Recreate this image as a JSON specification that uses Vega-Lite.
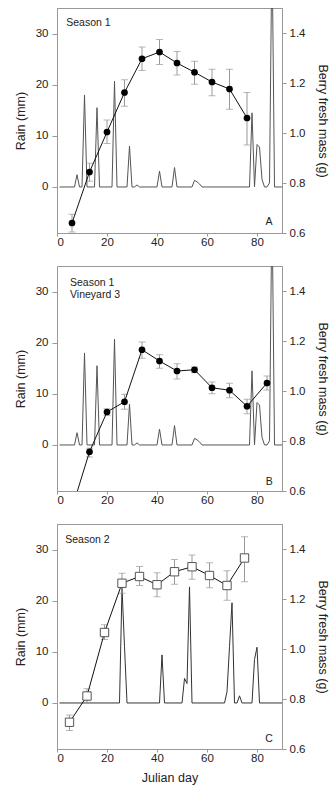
{
  "$schema": "https://vega.github.io/schema/vega-lite/v6.json",
  "padding": {"left": 13, "top": 7, "right": 0, "bottom": 2},
  "bounds": "flush",
  "spacing": 33,
  "config": {
    "font": "Liberation Sans",
    "view": {"stroke": "#999", "strokeWidth": 1},
    "axis": {"grid": false, "domainColor": "#999", "tickColor": "#999", "labelColor": "#222", "titleColor": "#222", "labelFontSize": 11.5, "titleFontSize": 12.5, "titleFontWeight": "normal", "labelFont": "Liberation Sans", "titleFont": "Liberation Sans"},
    "axisLeft": {"tickSize": 5, "labelPadding": 4, "titlePadding": 8},
    "axisRight": {"tickSize": 4, "labelPadding": 3, "titlePadding": 11},
    "axisBottom": {"tickSize": 3, "labelPadding": 0, "titlePadding": 8},
    "text": {"font": "Liberation Sans", "fontSize": 10.5, "color": "#222"}
  },
  "datasets": {
    "rain1": [
      {"day": 1, "rain": 0}, {"day": 7, "rain": 0}, {"day": 8, "rain": 2.4}, {"day": 9, "rain": 0},
      {"day": 10, "rain": 0}, {"day": 11, "rain": 18}, {"day": 12, "rain": 0},
      {"day": 15, "rain": 0}, {"day": 16, "rain": 15.5}, {"day": 17, "rain": 0},
      {"day": 22, "rain": 0}, {"day": 23, "rain": 20.7}, {"day": 24, "rain": 0},
      {"day": 28, "rain": 0}, {"day": 29, "rain": 8}, {"day": 30, "rain": 0},
      {"day": 31, "rain": 0}, {"day": 32, "rain": 0.4}, {"day": 33, "rain": 0},
      {"day": 40, "rain": 0}, {"day": 41, "rain": 3.1}, {"day": 42, "rain": 0},
      {"day": 46, "rain": 0}, {"day": 47, "rain": 3.8}, {"day": 48, "rain": 0},
      {"day": 54, "rain": 0}, {"day": 55, "rain": 1.3}, {"day": 56, "rain": 1.0}, {"day": 57, "rain": 0.6}, {"day": 58, "rain": 0},
      {"day": 77, "rain": 0}, {"day": 78, "rain": 14.5}, {"day": 79, "rain": 0},
      {"day": 80, "rain": 8.3}, {"day": 81, "rain": 7.8}, {"day": 82, "rain": 1.5}, {"day": 83, "rain": 0},
      {"day": 84, "rain": 0}, {"day": 85, "rain": 0.8}, {"day": 86, "rain": 48}, {"day": 87, "rain": 0},
      {"day": 90, "rain": 0}
    ],
    "rain2": [
      {"day": 1, "rain": 0}, {"day": 25, "rain": 0}, {"day": 26, "rain": 22.5}, {"day": 27, "rain": 11}, {"day": 28, "rain": 0},
      {"day": 41, "rain": 0}, {"day": 42, "rain": 9.4}, {"day": 43, "rain": 0},
      {"day": 50, "rain": 0}, {"day": 51, "rain": 4.8}, {"day": 52, "rain": 3.8}, {"day": 53, "rain": 22.7}, {"day": 54, "rain": 0},
      {"day": 67, "rain": 0}, {"day": 68, "rain": 2.2}, {"day": 69, "rain": 11}, {"day": 70, "rain": 19.6}, {"day": 71, "rain": 0},
      {"day": 72, "rain": 0}, {"day": 73, "rain": 1.4}, {"day": 74, "rain": 0},
      {"day": 78, "rain": 0}, {"day": 79, "rain": 8.5}, {"day": 80, "rain": 10.9}, {"day": 81, "rain": 0},
      {"day": 90, "rain": 0}
    ],
    "massA": [
      {"day": 6, "mass": 0.640, "lo": 0.604, "hi": 0.675},
      {"day": 13, "mass": 0.844, "lo": 0.807, "hi": 0.879},
      {"day": 20, "mass": 1.004, "lo": 0.958, "hi": 1.052},
      {"day": 27, "mass": 1.162, "lo": 1.107, "hi": 1.213},
      {"day": 34, "mass": 1.297, "lo": 1.250, "hi": 1.344},
      {"day": 41, "mass": 1.324, "lo": 1.274, "hi": 1.374},
      {"day": 48, "mass": 1.280, "lo": 1.232, "hi": 1.326},
      {"day": 55, "mass": 1.243, "lo": 1.195, "hi": 1.287},
      {"day": 62, "mass": 1.204, "lo": 1.149, "hi": 1.255},
      {"day": 69, "mass": 1.176, "lo": 1.095, "hi": 1.255},
      {"day": 76, "mass": 1.060, "lo": 0.952, "hi": 1.162}
    ],
    "massB": [
      {"day": 6, "mass": 0.53, "lo": 0.50, "hi": 0.56},
      {"day": 13, "mass": 0.757, "lo": 0.736, "hi": 0.771},
      {"day": 20, "mass": 0.916, "lo": 0.903, "hi": 0.929},
      {"day": 27, "mass": 0.957, "lo": 0.927, "hi": 0.987},
      {"day": 34, "mass": 1.165, "lo": 1.131, "hi": 1.196},
      {"day": 41, "mass": 1.120, "lo": 1.091, "hi": 1.145},
      {"day": 48, "mass": 1.080, "lo": 1.048, "hi": 1.109},
      {"day": 55, "mass": 1.085, "lo": 1.073, "hi": 1.096},
      {"day": 62, "mass": 1.013, "lo": 0.989, "hi": 1.036},
      {"day": 69, "mass": 1.003, "lo": 0.973, "hi": 1.031},
      {"day": 76, "mass": 0.939, "lo": 0.909, "hi": 0.967},
      {"day": 84, "mass": 1.032, "lo": 1.004, "hi": 1.060}
    ],
    "massC": [
      {"day": 5, "mass": 0.707, "lo": 0.674, "hi": 0.736},
      {"day": 12, "mass": 0.812, "lo": 0.787, "hi": 0.841},
      {"day": 19, "mass": 1.066, "lo": 1.038, "hi": 1.097},
      {"day": 26, "mass": 1.263, "lo": 1.223, "hi": 1.303},
      {"day": 33, "mass": 1.290, "lo": 1.254, "hi": 1.330},
      {"day": 40, "mass": 1.257, "lo": 1.209, "hi": 1.305},
      {"day": 47, "mass": 1.309, "lo": 1.259, "hi": 1.358},
      {"day": 54, "mass": 1.329, "lo": 1.279, "hi": 1.376},
      {"day": 61, "mass": 1.294, "lo": 1.245, "hi": 1.345},
      {"day": 68, "mass": 1.254, "lo": 1.195, "hi": 1.313},
      {"day": 75, "mass": 1.364, "lo": 1.269, "hi": 1.449}
    ]
  },
  "vconcat": [
    {
      "width": 225, "height": 225,
      "resolve": {"scale": {"y": "independent"}},
      "layer": [
        {
          "layer": [
            {"data": {"name": "rain1"}, "mark": {"type": "line", "color": "#555", "strokeWidth": 1, "clip": true},
             "encoding": {
               "x": {"field": "day", "type": "quantitative", "scale": {"domain": [0, 90], "nice": false, "zero": false}, "axis": {"values": [0, 20, 40, 60, 80], "title": null}},
               "y": {"field": "rain", "type": "quantitative", "scale": {"domain": [-9, 35], "nice": false, "zero": false}, "axis": {"orient": "left", "values": [0, 10, 20, 30], "title": "Rain (mm)"}}
             }},
            {"data": {"values": [{"day": 3.7, "rain": 32, "label": "Season 1"}]}, "mark": {"type": "text", "align": "left", "baseline": "middle"},
             "encoding": {"x": {"field": "day", "type": "quantitative"}, "y": {"field": "rain", "type": "quantitative"}, "text": {"field": "label"}}},
            {"data": {"values": [{"day": 84.8, "rain": -6.8, "label": "A"}]}, "mark": {"type": "text", "align": "center", "baseline": "middle"},
             "encoding": {"x": {"field": "day", "type": "quantitative"}, "y": {"field": "rain", "type": "quantitative"}, "text": {"field": "label"}}}
          ]
        },
        {
          "data": {"name": "massA"},
          "layer": [
            {"mark": {"type": "rule", "color": "#999", "strokeWidth": 1, "clip": true},
             "encoding": {"x": {"field": "day", "type": "quantitative"},
               "y": {"field": "lo", "type": "quantitative", "scale": {"domain": [0.6, 1.5], "nice": false, "zero": false}, "axis": {"orient": "right", "values": [0.6, 0.8, 1.0, 1.2, 1.4], "format": ".1f", "title": "Berry fresh mass (g)"}},
               "y2": {"field": "hi"}}},
            {"mark": {"type": "tick", "orient": "horizontal", "color": "#999", "size": 7, "thickness": 1, "clip": true},
             "encoding": {"x": {"field": "day", "type": "quantitative"}, "y": {"field": "lo", "type": "quantitative", "title": "Berry fresh mass (g)"}}},
            {"mark": {"type": "tick", "orient": "horizontal", "color": "#999", "size": 7, "thickness": 1, "clip": true},
             "encoding": {"x": {"field": "day", "type": "quantitative"}, "y": {"field": "hi", "type": "quantitative", "title": "Berry fresh mass (g)"}}},
            {"mark": {"type": "line", "color": "#111", "strokeWidth": 1, "clip": true},
             "encoding": {"x": {"field": "day", "type": "quantitative"}, "y": {"field": "mass", "type": "quantitative", "title": "Berry fresh mass (g)"}}},
            {"mark": {"type": "point", "filled": true, "color": "#000", "size": 45, "opacity": 1, "clip": true},
             "encoding": {"x": {"field": "day", "type": "quantitative"}, "y": {"field": "mass", "type": "quantitative", "title": "Berry fresh mass (g)"}}}
          ]
        }
      ]
    },
    {
      "width": 225, "height": 225,
      "resolve": {"scale": {"y": "independent"}},
      "layer": [
        {
          "layer": [
            {"data": {"name": "rain1"}, "mark": {"type": "line", "color": "#555", "strokeWidth": 1, "clip": true},
             "encoding": {
               "x": {"field": "day", "type": "quantitative", "scale": {"domain": [0, 90], "nice": false, "zero": false}, "axis": {"values": [0, 20, 40, 60, 80], "title": null}},
               "y": {"field": "rain", "type": "quantitative", "scale": {"domain": [-9, 35], "nice": false, "zero": false}, "axis": {"orient": "left", "values": [0, 10, 20, 30], "title": "Rain (mm)"}}
             }},
            {"data": {"values": [{"day": 5.2, "rain": 31.6, "label": "Season 1"}, {"day": 5.2, "rain": 29.3, "label": "Vineyard 3"}]}, "mark": {"type": "text", "align": "left", "baseline": "middle"},
             "encoding": {"x": {"field": "day", "type": "quantitative"}, "y": {"field": "rain", "type": "quantitative"}, "text": {"field": "label"}}},
            {"data": {"values": [{"day": 84.9, "rain": -7.2, "label": "B"}]}, "mark": {"type": "text", "align": "center", "baseline": "middle"},
             "encoding": {"x": {"field": "day", "type": "quantitative"}, "y": {"field": "rain", "type": "quantitative"}, "text": {"field": "label"}}}
          ]
        },
        {
          "data": {"name": "massB"},
          "layer": [
            {"mark": {"type": "rule", "color": "#999", "strokeWidth": 1, "clip": true},
             "encoding": {"x": {"field": "day", "type": "quantitative"},
               "y": {"field": "lo", "type": "quantitative", "scale": {"domain": [0.6, 1.5], "nice": false, "zero": false}, "axis": {"orient": "right", "values": [0.6, 0.8, 1.0, 1.2, 1.4], "format": ".1f", "title": "Berry fresh mass (g)"}},
               "y2": {"field": "hi"}}},
            {"mark": {"type": "tick", "orient": "horizontal", "color": "#999", "size": 7, "thickness": 1, "clip": true},
             "encoding": {"x": {"field": "day", "type": "quantitative"}, "y": {"field": "lo", "type": "quantitative", "title": "Berry fresh mass (g)"}}},
            {"mark": {"type": "tick", "orient": "horizontal", "color": "#999", "size": 7, "thickness": 1, "clip": true},
             "encoding": {"x": {"field": "day", "type": "quantitative"}, "y": {"field": "hi", "type": "quantitative", "title": "Berry fresh mass (g)"}}},
            {"mark": {"type": "line", "color": "#111", "strokeWidth": 1, "clip": true},
             "encoding": {"x": {"field": "day", "type": "quantitative"}, "y": {"field": "mass", "type": "quantitative", "title": "Berry fresh mass (g)"}}},
            {"mark": {"type": "point", "filled": true, "color": "#000", "size": 45, "opacity": 1, "clip": true},
             "encoding": {"x": {"field": "day", "type": "quantitative"}, "y": {"field": "mass", "type": "quantitative", "title": "Berry fresh mass (g)"}}}
          ]
        }
      ]
    },
    {
      "width": 225, "height": 225,
      "resolve": {"scale": {"y": "independent"}},
      "layer": [
        {
          "layer": [
            {"data": {"name": "rain2"}, "mark": {"type": "line", "color": "#333", "strokeWidth": 1, "clip": true},
             "encoding": {
               "x": {"field": "day", "type": "quantitative", "scale": {"domain": [0, 90], "nice": false, "zero": false}, "axis": {"values": [0, 20, 40, 60, 80], "title": "Julian day"}},
               "y": {"field": "rain", "type": "quantitative", "scale": {"domain": [-9, 35], "nice": false, "zero": false}, "axis": {"orient": "left", "values": [0, 10, 20, 30], "title": "Rain (mm)"}}
             }},
            {"data": {"values": [{"day": 3.3, "rain": 31.8, "label": "Season 2"}]}, "mark": {"type": "text", "align": "left", "baseline": "middle"},
             "encoding": {"x": {"field": "day", "type": "quantitative"}, "y": {"field": "rain", "type": "quantitative"}, "text": {"field": "label"}}},
            {"data": {"values": [{"day": 84.8, "rain": -7.0, "label": "C"}]}, "mark": {"type": "text", "align": "center", "baseline": "middle"},
             "encoding": {"x": {"field": "day", "type": "quantitative"}, "y": {"field": "rain", "type": "quantitative"}, "text": {"field": "label"}}}
          ]
        },
        {
          "data": {"name": "massC"},
          "layer": [
            {"mark": {"type": "rule", "color": "#999", "strokeWidth": 1, "clip": true},
             "encoding": {"x": {"field": "day", "type": "quantitative"},
               "y": {"field": "lo", "type": "quantitative", "scale": {"domain": [0.6, 1.5], "nice": false, "zero": false}, "axis": {"orient": "right", "values": [0.6, 0.8, 1.0, 1.2, 1.4], "format": ".1f", "title": "Berry fresh mass (g)"}},
               "y2": {"field": "hi"}}},
            {"mark": {"type": "tick", "orient": "horizontal", "color": "#999", "size": 7, "thickness": 1, "clip": true},
             "encoding": {"x": {"field": "day", "type": "quantitative"}, "y": {"field": "lo", "type": "quantitative", "title": "Berry fresh mass (g)"}}},
            {"mark": {"type": "tick", "orient": "horizontal", "color": "#999", "size": 7, "thickness": 1, "clip": true},
             "encoding": {"x": {"field": "day", "type": "quantitative"}, "y": {"field": "hi", "type": "quantitative", "title": "Berry fresh mass (g)"}}},
            {"mark": {"type": "line", "color": "#111", "strokeWidth": 1, "clip": true},
             "encoding": {"x": {"field": "day", "type": "quantitative"}, "y": {"field": "mass", "type": "quantitative", "title": "Berry fresh mass (g)"}}},
            {"mark": {"type": "square", "fill": "#fff", "stroke": "#555", "strokeWidth": 1, "size": 70, "opacity": 1, "clip": true},
             "encoding": {"x": {"field": "day", "type": "quantitative"}, "y": {"field": "mass", "type": "quantitative", "title": "Berry fresh mass (g)"}}}
          ]
        }
      ]
    }
  ]
}
